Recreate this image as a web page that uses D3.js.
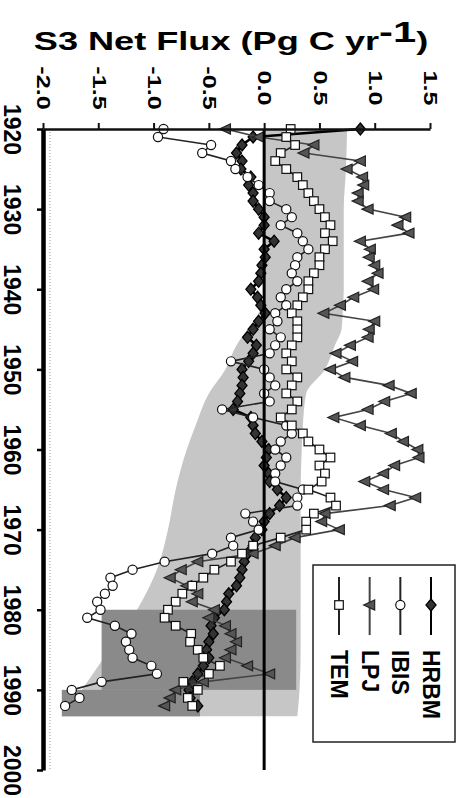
<!DOCTYPE html>
<html>
<head>
<meta charset="UTF-8">
<title>S3 Net Flux</title>
<style>
  body { margin: 0; background: #fff; }
  svg { display: block; font-family: "Liberation Sans", Arial, sans-serif; }
</style>
</head>
<body>
<svg></svg>
<script src="https://cdnjs.cloudflare.com/ajax/libs/d3/7.8.5/d3.min.js"></script>
<script>

let width = 464, height = 798;

// --- data ---
let startYear = 1920;
let hrbm = [0.87,-0.1,-0.2,-0.25,-0.2,-0.21,-0.12,-0.14,-0.1,-0.1,
  -0.05,0.0,0.0,-0.05,0.09,0.0,0.01,-0.02,-0.03,-0.05,
  -0.12,-0.06,-0.03,0.01,-0.05,-0.1,-0.15,-0.07,-0.1,-0.14,
  -0.2,-0.19,-0.2,-0.22,-0.24,-0.28,-0.12,-0.1,-0.08,-0.02,
  0.04,0.02,0.0,0.04,0.05,0.12,0.2,0.14,0.05,0.0,
  -0.02,-0.08,-0.1,-0.15,-0.18,-0.2,-0.22,-0.25,-0.32,-0.34,
  -0.36,-0.45,-0.48,-0.46,-0.5,-0.52,-0.5,-0.55,-0.6,-0.65,
  -0.68,-0.67,-0.6];
let ibis = [-0.91,-0.96,-0.48,-0.56,-0.3,-0.26,-0.15,-0.05,0.05,0.05,
  0.2,0.25,0.15,0.3,0.35,0.4,0.3,0.28,0.25,0.3,
  0.2,0.15,0.2,0.1,0.12,0.05,0.15,0.1,0.05,-0.3,
  0.0,0.05,0.1,0.0,0.05,-0.38,-0.1,0.2,0.25,0.15,
  0.1,0.2,0.15,0.1,0.1,0.35,0.3,0.3,-0.17,-0.1,
  -0.05,-0.3,-0.28,-0.47,-0.9,-1.19,-1.39,-1.37,-1.44,-1.51,
  -1.48,-1.6,-1.35,-1.2,-1.25,-1.22,-1.19,-1.02,-0.97,-1.47,
  -1.74,-1.67,-1.8];
let lpj = [-0.35,-0.05,0.45,0.36,0.87,0.75,0.89,0.9,0.85,0.85,
  0.94,1.28,1.21,1.31,0.87,0.96,0.95,1.0,1.03,0.94,
  0.99,0.81,0.69,0.54,1.0,0.95,0.94,0.78,0.65,0.8,
  0.6,0.73,1.13,1.33,1.09,0.94,0.63,0.87,1.15,1.26,
  1.39,1.4,1.18,1.08,0.91,1.08,1.37,1.14,0.55,0.52,
  0.68,0.28,0.1,-0.1,-0.6,-0.75,-0.85,-0.7,-0.6,-0.65,
  -0.45,-0.5,-0.35,-0.3,-0.25,-0.3,-0.35,-0.15,0.05,-0.55,
  -0.8,-0.85,-0.9];
let tem = [0.24,0.2,0.28,0.15,0.1,0.2,0.3,0.35,0.4,0.45,
  0.5,0.55,0.6,0.55,0.62,0.55,0.5,0.5,0.45,0.4,
  0.4,0.35,0.3,0.25,0.3,0.3,0.3,0.25,0.2,0.25,
  0.2,0.3,0.25,0.2,0.3,0.25,0.15,0.25,0.35,0.4,
  0.5,0.6,0.5,0.55,0.52,0.4,0.6,0.65,0.45,0.38,
  0.38,0.15,-0.1,-0.2,-0.3,-0.45,-0.55,-0.65,-0.74,-0.8,
  -0.87,-0.9,-0.8,-0.66,-0.67,-0.6,-0.55,-0.4,-0.5,-0.73,
  -0.6,-0.69,-0.65];

// grey envelope behind the models
let bandYears = [1920,1925,1930,1935,1940,1943,1945,1947,1950,1953,1957,1960,1965,1970,1975,1980,1985,1990,1993.3];
let bandLow  = [0.0,0.0,0.0,0.0,0.0,-0.05,-0.15,-0.25,-0.35,-0.5,-0.62,-0.7,-0.8,-0.87,-0.97,-1.15,-1.4,-1.65,-1.83];
let bandHigh = [0.75,0.74,0.72,0.72,0.72,0.71,0.7,0.64,0.55,0.38,0.35,0.34,0.33,0.33,0.33,0.33,0.33,0.32,0.3];

// darker inversion boxes
let boxYear0 = [1980, 1990];
let boxYear1 = [1990, 1993.3];
let boxLow   = [-1.47, -1.83];
let boxHigh  = [0.29, -0.58];

let fluxTicks = [-2.0,-1.5,-1.0,-0.5,0.0,0.5,1.0,1.5];
let yearTicks = [1920,1930,1940,1950,1960,1970,1980,1990,2000];
let seriesNames = ["HRBM","IBIS","LPJ","TEM"];

// --- chart (drawn turned a quarter turn) ---
let svg = d3.select("svg").attr("width", width).attr("height", height);

let x = d3.scaleLinear().domain([-2, 1.5]).range([43, 430]);
let y = d3.scaleLinear().domain([1920, 2000]).range([129, 770]);

let band = bandYears.map((yr, i) => ({yr: yr, lo: bandLow[i], hi: bandHigh[i]}));
svg.append("path")
    .datum(band)
    .attr("fill", "#c6c6c6")
    .attr("d", d3.area()
        .y(d => y(d.yr))
        .x0(d => x(d.lo))
        .x1(d => x(d.hi))
        .curve(d3.curveMonotoneY));

svg.selectAll(".box")
    .data(boxYear0.map((b, i) => ({y0: b, y1: boxYear1[i], lo: boxLow[i], hi: boxHigh[i]})))
    .enter()
    .append("rect")
    .attr("class", "box")
    .attr("x", d => x(d.lo))
    .attr("y", d => y(d.y0))
    .attr("width", d => x(d.hi) - x(d.lo))
    .attr("height", d => y(d.y1) - y(d.y0))
    .attr("fill", "#8a8a8a");

// faint plot border
svg.append("line")
    .attr("x1", 50).attr("x2", 50)
    .attr("y1", y(1920)).attr("y2", y(2000))
    .attr("stroke", "#999").attr("stroke-dasharray", "1,2");

// marker shapes
let marker = {
    HRBM: g => g.append("path").attr("d", "M0,-6L5,0L0,6L-5,0Z").attr("fill", "#333").attr("stroke", "#000").attr("stroke-width", 1.3),
    IBIS: g => g.append("circle").attr("r", 4.6).attr("fill", "#fff").attr("stroke", "#111").attr("stroke-width", 1.2),
    LPJ: g => g.append("path").attr("d", "M-6,0L5,-5L5,5Z").attr("fill", "#555").attr("stroke", "#222").attr("stroke-width", 1.2),
    TEM: g => g.append("rect").attr("x", -4.3).attr("y", -4.3).attr("width", 8.6).attr("height", 8.6).attr("fill", "#fff").attr("stroke", "#111").attr("stroke-width", 1.2)
};
let lineStyle = {
    HRBM: {c: "#000", w: 2.6},
    IBIS: {c: "#222", w: 1.6},
    LPJ: {c: "#444", w: 1.6},
    TEM: {c: "#222", w: 1.6}
};
let seriesData = {HRBM: hrbm, IBIS: ibis, LPJ: lpj, TEM: tem};

let line = d3.line().x(d => x(d.v)).y(d => y(d.yr));

["HRBM","LPJ","IBIS","TEM"].forEach(name => {
    let pts = seriesData[name].map((v, i) => ({yr: startYear + i, v: v}));
    let g = svg.append("g").attr("class", "series");
    g.append("path")
        .datum(pts)
        .attr("fill", "none")
        .attr("stroke", lineStyle[name].c)
        .attr("stroke-width", lineStyle[name].w)
        .attr("d", line);
    g.selectAll("g.pt")
        .data(pts)
        .enter()
        .append("g")
        .attr("class", "pt")
        .attr("transform", d => "translate(" + x(d.v) + "," + y(d.yr) + ")")
        .each(function() { marker[name](d3.select(this)); });
});

// zero line
svg.append("line")
    .attr("x1", x(0)).attr("x2", x(0))
    .attr("y1", y(1920)).attr("y2", y(2000))
    .attr("stroke", "#000").attr("stroke-width", 3);

// flux axis along the top
let topAxis = svg.append("g")
    .attr("transform", "translate(0," + y(1920) + ")")
    .call(d3.axisTop(x).tickValues(fluxTicks).tickSize(6).tickSizeOuter(0).tickFormat(d => d.toFixed(1)));
topAxis.select(".domain").attr("stroke", "#111").attr("stroke-width", 2.5);
topAxis.selectAll(".tick line").attr("stroke", "#111").attr("stroke-width", 2);
topAxis.selectAll(".tick text")
    .attr("x", null).attr("y", null).attr("dy", null)
    .attr("transform", "translate(0,-41) rotate(90) scale(1.4,1)")
    .attr("text-anchor", "middle")
    .attr("dominant-baseline", "central")
    .attr("fill", "#000")
    .style("font-size", "18px")
    .style("font-weight", "bold");

// year axis on the left
let leftAxis = svg.append("g")
    .attr("transform", "translate(" + x(-2) + ",0)")
    .call(d3.axisLeft(y).tickValues(yearTicks).tickSize(6).tickSizeOuter(0).tickFormat(d3.format("d")));
leftAxis.select(".domain").attr("stroke", "#000").attr("stroke-width", 4.5);
leftAxis.selectAll(".tick line").attr("stroke", "#000").attr("stroke-width", 2.5);
leftAxis.selectAll(".tick text")
    .attr("x", null).attr("y", null).attr("dy", null)
    .attr("transform", "translate(-31,0) rotate(90)")
    .attr("text-anchor", "middle")
    .attr("dominant-baseline", "central")
    .attr("fill", "#000")
    .style("font-size", "23px")
    .style("font-weight", "bold");

// title
let title = svg.append("text")
    .attr("transform", "translate(231,50) scale(1.39,1)")
    .attr("text-anchor", "middle")
    .style("font-size", "26px")
    .style("font-weight", "bold");
title.append("tspan").text("S3 Net Flux (Pg C yr");
title.append("tspan").attr("dy", -8).style("font-size", "30px").text("-1");
title.append("tspan").attr("dy", 8).text(")");

// legend
let legend = svg.append("g");
legend.append("rect")
    .attr("x", 313).attr("y", 565)
    .attr("width", 142).attr("height", 177)
    .attr("fill", "#fff").attr("stroke", "#222").attr("stroke-width", 1.5);

let legendX = d3.scalePoint().domain(seriesNames).range([431, 339]);
seriesNames.forEach(name => {
    let lx = legendX(name);
    legend.append("line")
        .attr("x1", lx).attr("x2", lx)
        .attr("y1", 577).attr("y2", 635)
        .attr("stroke", lineStyle[name].c).attr("stroke-width", 2);
    let m = legend.append("g").attr("transform", "translate(" + lx + ",605)");
    marker[name](m);
    legend.append("text")
        .attr("transform", "translate(" + lx + ",650) rotate(90)")
        .attr("dominant-baseline", "central")
        .style("font-size", "23px")
        .style("font-weight", "bold")
        .text(name);
});

</script>
</body>
</html>
